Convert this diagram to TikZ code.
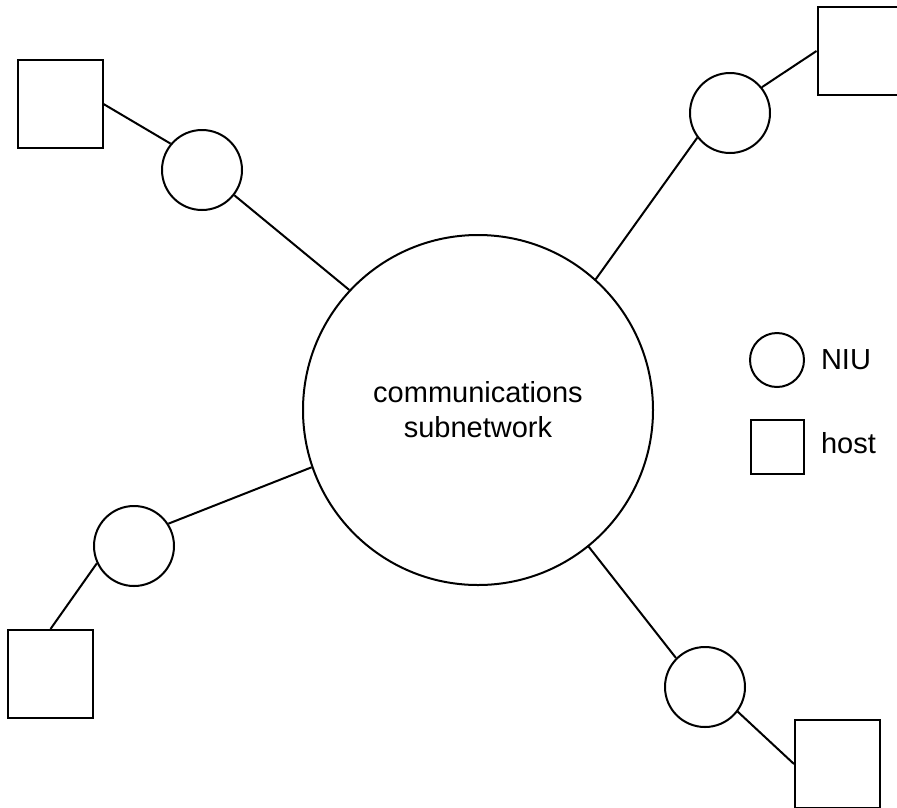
\documentclass[tikz,border=0pt]{standalone}
\usepackage{fontspec}
\setmainfont{Liberation Sans}
\usepackage{tikz}
\usetikzlibrary{positioning}
\tikzstyle{niu}=[draw,circle,minimum size=80pt,inner sep=0pt]
\tikzstyle{hostbox}=[draw,rectangle,minimum width=85pt,minimum height=88pt,inner sep=0pt]
\tikzstyle{subnet}=[draw,circle,minimum size=350pt,inner sep=0pt,align=center]
\begin{document}
\begin{tikzpicture}[line width=2pt,x=1pt,y=-1pt,font=\fontsize{29}{35}\selectfont]
\useasboundingbox (0,0) rectangle (897,807);
\node [subnet] (net) at (478,410) {communications\\subnetwork};
\node [niu] (n1) at (202,170) {};
\node [niu] (n2) at (730,113) {};
\node [niu] (n3) at (134,546) {};
\node [niu] (n4) at (705,687) {};
\node [hostbox] (h1) at (60,104) {};
\node [hostbox] (h2) at (860,51) {};
\node [hostbox] (h3) at (50.5,674) {};
\node [hostbox] (h4) at (837.5,764) {};
\draw (h1.east) -- (n1.140);
\draw (n1.-38) -- (net.137);
\draw (h2.west) -- (n2.39);
\draw (n2.217) -- (net.48);
\draw (h3.north) -- (n3.205);
\draw (n3.33) -- (net.199);
\draw (h4.west) -- (n4.-37);
\draw (n4.135) -- (net.309);
\node [niu,minimum size=54pt] (lniu) at (777,360) {};
\node [hostbox,minimum width=53pt,minimum height=54pt] (lhost) at (777.5,447) {};
\node [right=15pt of lniu,inner sep=0pt] (lniutext) {NIU};
\node [right=15pt of lhost,inner sep=0pt,yshift=4pt] (lhosttext) {host};
\end{tikzpicture}
\end{document}
